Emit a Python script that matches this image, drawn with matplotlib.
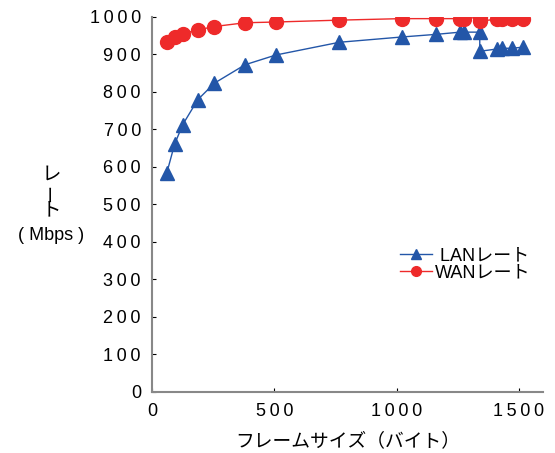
import matplotlib
matplotlib.use("Agg")
import matplotlib.pyplot as plt

plt.rcParams['font.family'] = ['Liberation Sans', 'Noto Sans CJK JP', 'DejaVu Sans']

# frame size (bytes) vs rate (Mbps)
lan_x = [60, 92, 125, 187, 255, 380, 506, 766, 1020, 1160, 1260, 1277, 1340, 1340, 1410, 1430, 1470, 1518]
lan_y = [583, 660, 712, 779, 823, 872, 898, 932, 946, 953, 959, 959, 959, 908, 914, 916, 916, 919]

wan_x = [60, 92, 125, 187, 255, 380, 506, 766, 1020, 1160, 1260, 1277, 1340, 1340, 1410, 1430, 1470, 1518]
wan_y = [934, 945, 955, 965, 974, 984, 986, 991, 995, 995, 995, 995, 999, 989, 993, 995, 995, 995]

xticks = [0, 500, 1000, 1500]
yticks = list(range(0, 1001, 100))

blue = '#2356a8'
red = '#ee2a2a'

def spaced(s):
    # thin space between digits, like the original's wide tracking
    return '\u2009'.join(s)

fig = plt.figure(figsize=(5.55, 4.53), dpi=100)
ax = fig.add_axes([0.274, 0.135, 0.705, 0.828])

ax.plot(lan_x, lan_y, color=blue, lw=1, marker='^', ms=10, mec=blue, mfc=blue, label=' LANレート')
ax.plot(wan_x, wan_y, color=red, lw=1, marker='o', ms=10, mec=red, mfc=red, label='WANレート')

ax.set_xlim(0, 1600)
ax.set_ylim(0, 1000)
ax.set_xticks(xticks)
ax.set_xticklabels([spaced(str(t)) for t in xticks], fontsize=13)
ax.set_yticks(yticks)
ax.set_yticklabels([spaced(str(t)) for t in yticks], fontsize=13)
ax.tick_params(direction='in', length=3, width=0.8, color='black', pad=8)
ax.tick_params(axis='y', pad=8)
for s in ['top', 'right']:
    ax.spines[s].set_visible(False)
for s in ['left', 'bottom']:
    ax.spines[s].set_color('#888888')
    ax.spines[s].set_linewidth(1.5)

ax.set_xlabel('フレームサイズ（バイト）', fontsize=13.5, labelpad=9)

# vertical y label
fig.text(0.092, 0.613, 'レ', fontsize=14, ha='center', va='center')
fig.text(0.092, 0.574, 'ー', fontsize=13, ha='center', va='center', rotation=90)
fig.text(0.092, 0.535, 'ト', fontsize=14, ha='center', va='center')
fig.text(0.092, 0.481, '( Mbps )', fontsize=13, ha='center', va='center')

leg = ax.legend(loc='upper left', bbox_to_anchor=(0.615, 0.405), frameon=False,
                fontsize=13, handlelength=1.75, handletextpad=0.2, labelspacing=0.0,
                borderaxespad=0)
for h in leg.legend_handles:
    h.set_markersize(7)

fig.savefig('out.png', dpi=100)
